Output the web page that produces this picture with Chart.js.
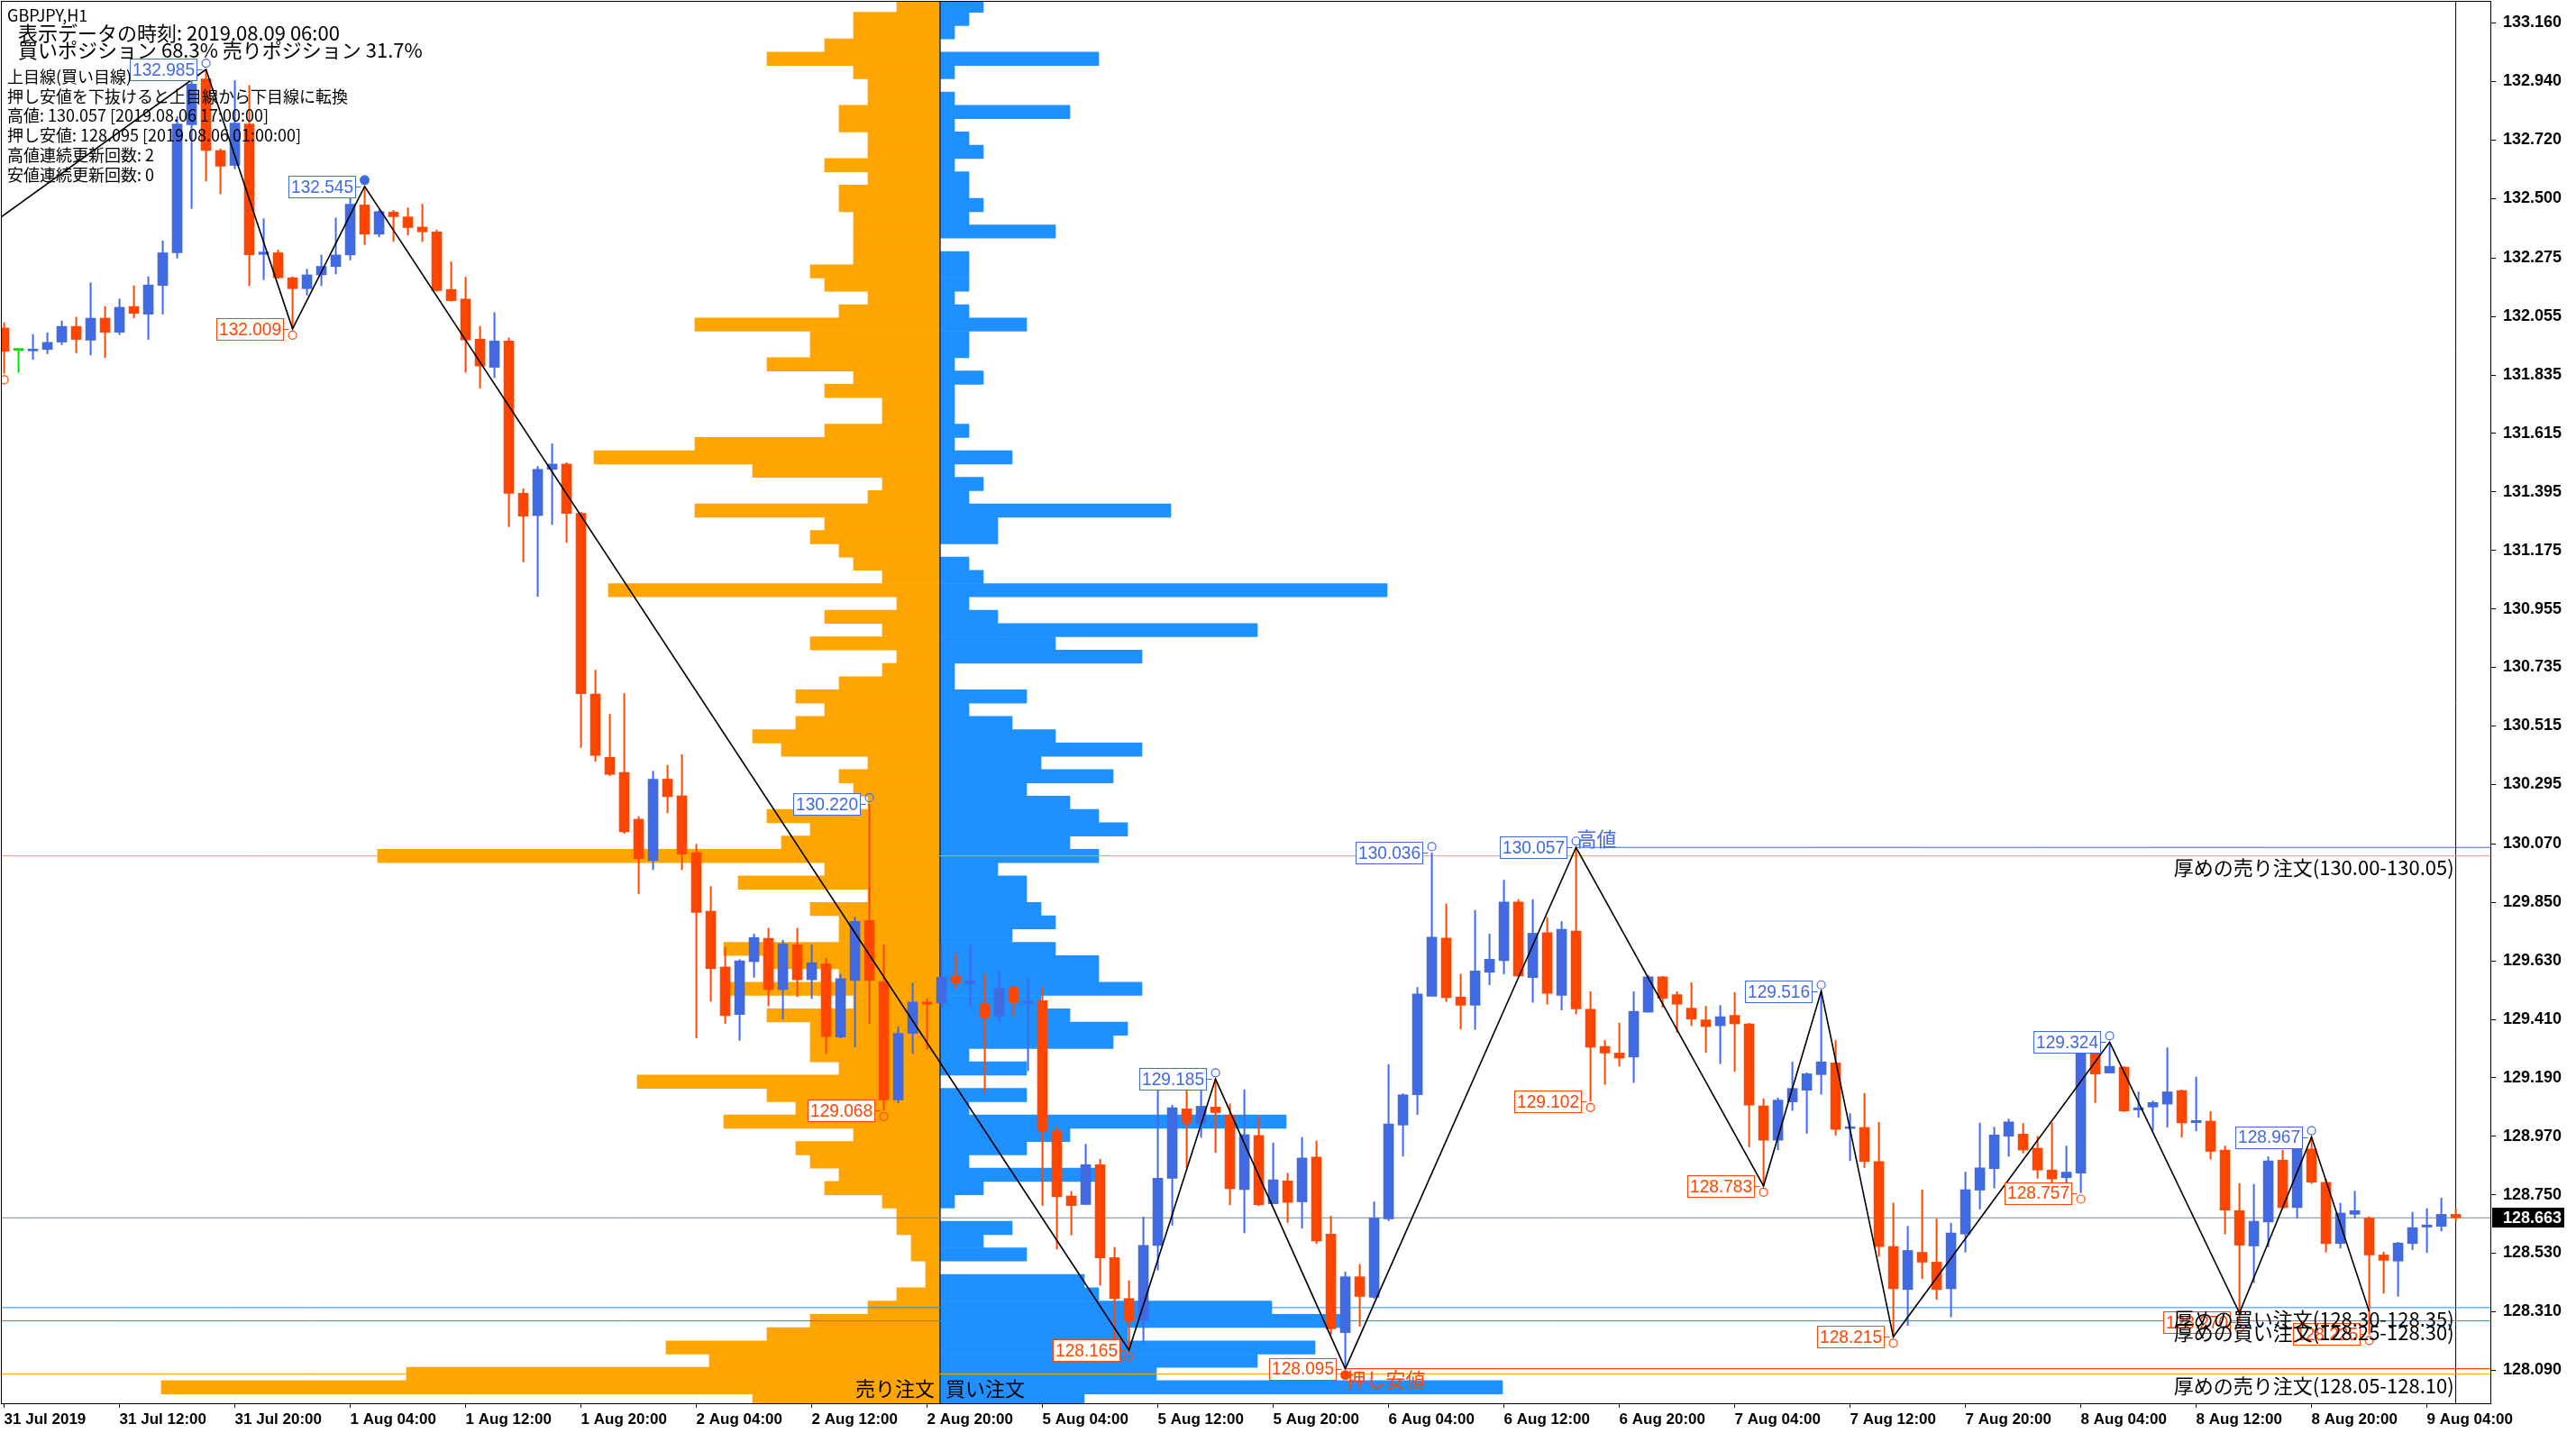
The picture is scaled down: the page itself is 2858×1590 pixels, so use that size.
<!DOCTYPE html>
<html><head><meta charset="utf-8">
<script src="https://cdn.jsdelivr.net/npm/chart.js@4.4.1/dist/chart.umd.min.js"></script>
<style>html,body{margin:0;padding:0;background:#fff;overflow:hidden}</style>
</head><body>
<canvas id="c" width="2858" height="1590" style="width:2858px;height:1590px;display:block"></canvas>
<script>
// ---------------- DATA ----------------
const OPEN=[132.012,131.928,131.926,131.931,131.959,132.018,131.966,132.049,131.996,132.093,
132.064,132.172,132.295,132.777,132.949,132.680,132.624,132.780,132.289,132.295,
132.201,132.160,132.212,132.243,132.287,132.475,132.365,132.448,132.430,132.392,
132.374,132.157,132.121,131.970,131.864,131.963,131.390,131.306,131.480,131.500,
131.314,130.634,130.396,130.339,130.163,130.007,130.314,130.251,130.037,129.817,
129.607,129.428,129.627,129.715,129.522,129.691,129.559,129.618,129.343,129.556,
129.782,129.551,129.107,129.357,129.475,129.471,129.573,129.544,129.469,129.423,
129.530,129.471,129.480,128.990,128.745,128.713,128.863,128.513,128.359,128.278,
128.559,128.812,129.073,129.019,129.080,129.049,128.769,128.973,128.716,128.802,
128.723,128.892,128.602,128.231,128.441,128.364,128.659,129.012,129.126,129.497,
129.716,129.494,129.463,129.587,129.631,129.852,129.567,129.736,129.500,129.742,
129.448,129.308,129.283,129.268,129.437,129.570,129.503,129.452,129.408,129.386,
129.425,129.393,129.084,128.955,129.099,129.143,129.202,129.246,128.999,129.003,
128.875,128.555,128.393,128.533,128.496,128.396,128.602,128.767,128.848,128.970,
128.978,128.925,128.843,128.814,128.831,129.289,129.208,129.230,129.069,129.080,
129.091,129.142,129.021,129.027,128.918,128.690,128.557,128.647,128.880,128.701,
128.922,128.797,128.566,128.676,128.662,128.523,128.500,128.566,128.628,128.631,
128.676];
const HIGH=[132.032,131.935,131.988,131.994,132.039,132.053,132.182,132.093,132.121,132.171,
132.205,132.340,132.808,132.960,132.985,132.686,132.943,132.925,132.423,132.306,
132.205,132.233,132.287,132.426,132.503,132.545,132.455,132.455,132.464,132.478,
132.381,132.261,132.203,132.018,132.070,131.975,131.407,131.491,131.576,131.505,
131.318,130.724,130.558,130.636,130.173,130.344,130.366,130.406,130.069,129.910,
129.681,129.635,129.731,129.753,129.708,129.753,129.691,129.640,129.580,129.795,
130.220,129.691,129.382,129.546,129.488,129.694,129.657,129.686,129.580,129.587,
129.534,129.563,129.530,129.005,128.762,128.940,128.883,128.552,128.426,128.666,
129.145,129.087,129.145,129.173,129.185,129.092,129.145,129.045,128.945,128.831,
128.966,128.952,128.669,128.459,128.488,128.723,129.240,129.130,129.530,130.036,
129.844,129.580,129.820,129.731,129.934,129.861,129.861,129.793,129.778,130.057,
129.514,129.331,129.396,129.514,129.575,129.572,129.514,129.548,129.459,129.462,
129.511,129.395,129.111,129.114,129.249,129.209,129.516,129.331,129.055,129.131,
129.022,128.719,128.631,128.768,128.658,128.643,128.835,129.020,129.004,129.035,
129.018,128.970,129.020,128.933,129.287,129.295,129.324,129.232,129.137,129.103,
129.303,129.144,129.193,129.063,128.933,128.792,128.789,128.893,128.918,128.935,
128.967,128.809,128.718,128.763,128.667,128.534,128.571,128.684,128.698,128.737,
128.696];
const LOW=[131.841,131.845,131.894,131.915,131.949,131.919,131.910,131.901,131.987,132.050,
131.969,132.064,132.275,132.462,132.565,132.517,132.611,132.171,132.194,132.198,
132.009,132.136,132.171,132.215,132.268,132.326,132.355,132.337,132.362,132.337,
132.150,132.113,131.845,131.786,131.825,131.264,131.132,131.002,131.272,131.205,
130.433,130.381,130.327,130.110,129.883,129.973,130.187,129.973,129.340,129.478,
129.394,129.331,129.568,129.461,129.411,129.495,129.488,129.281,129.340,129.306,
129.394,129.068,129.095,129.281,129.298,129.455,129.526,129.455,129.135,129.402,
129.423,129.216,128.709,128.545,128.598,128.713,128.409,128.207,128.165,128.195,
128.466,128.635,128.852,128.966,128.909,128.712,128.606,128.708,128.716,128.645,
128.624,128.566,128.224,128.095,128.255,128.359,128.652,128.895,129.052,129.497,
129.477,129.373,129.372,129.540,129.581,129.570,129.474,129.467,129.445,129.430,
129.102,129.165,129.234,129.172,129.437,129.455,129.361,129.386,129.286,129.243,
129.214,128.930,128.783,128.919,129.067,128.981,129.128,128.974,128.878,128.852,
128.518,128.215,128.258,128.434,128.356,128.290,128.534,128.696,128.775,128.894,
128.907,128.812,128.792,128.792,128.757,129.097,129.208,129.063,129.041,128.993,
129.004,128.967,128.990,128.884,128.602,128.270,128.419,128.554,128.698,128.662,
128.792,128.534,128.549,128.662,128.225,128.379,128.368,128.543,128.532,128.613,
128.650];
const CLOSE=[131.924,131.928,131.929,131.958,132.018,131.969,132.049,131.996,132.090,132.067,
132.174,132.295,132.780,132.930,132.680,132.621,132.783,132.288,132.298,132.201,
132.160,132.212,132.244,132.287,132.478,132.365,132.450,132.431,132.390,132.374,
132.153,132.115,131.967,131.869,131.963,131.390,131.304,131.480,131.500,131.314,
130.636,130.403,130.332,130.116,130.015,130.314,130.248,130.032,129.812,129.601,
129.424,129.630,129.718,129.522,129.694,129.559,129.623,129.345,129.563,129.779,
129.556,129.107,129.357,129.475,129.467,129.568,129.547,129.556,129.416,129.526,
129.473,129.476,128.990,128.742,128.709,128.863,128.512,128.359,128.274,128.559,
128.812,129.077,129.019,129.083,129.059,128.773,128.976,128.712,128.806,128.721,
128.888,128.576,128.245,128.441,128.367,128.663,129.016,129.126,129.506,129.719,
129.492,129.463,129.592,129.636,129.852,129.573,129.734,129.508,129.749,129.449,
129.305,129.283,129.264,129.440,129.570,129.489,129.467,129.411,129.383,129.420,
129.393,129.087,128.955,129.106,129.150,129.205,129.250,128.996,129.003,128.875,
128.555,128.396,128.540,128.496,128.393,128.606,128.769,128.851,128.975,129.024,
128.918,128.843,128.809,128.835,129.284,129.204,129.233,129.065,129.077,129.097,
129.137,129.020,129.029,128.913,128.692,128.560,128.650,128.877,128.701,128.925,
128.797,128.566,128.681,128.690,128.523,128.503,128.568,128.626,128.636,128.676,
128.663];

const X_TICK_INDEX=[0,8,16,24,32,40,48,56,64,72,80,88,96,104,112,120,128,136,144,152,160,168];
const X_TICK_LABELS=["31 Jul 2019","31 Jul 12:00","31 Jul 20:00","1 Aug 04:00","1 Aug 12:00","1 Aug 20:00",
"2 Aug 04:00","2 Aug 12:00","2 Aug 20:00","5 Aug 04:00","5 Aug 12:00","5 Aug 20:00","6 Aug 04:00",
"6 Aug 12:00","6 Aug 20:00","7 Aug 04:00","7 Aug 12:00","7 Aug 20:00","8 Aug 04:00","8 Aug 12:00",
"8 Aug 20:00","9 Aug 04:00"];
const Y_TICKS=[133.160,132.940,132.720,132.500,132.275,132.055,131.835,131.615,131.395,131.175,130.955,
130.735,130.515,130.295,130.070,129.850,129.630,129.410,129.190,128.970,128.750,128.530,128.310,128.090];

// order book buckets (lower bound of each 0.05 bucket), sell / buy percentages
const BUCKET_LOW=[133.20,133.15,133.10,133.05,133.00,132.95,132.90,132.85,132.80,132.75,
132.70,132.65,132.60,132.55,132.50,132.45,132.40,132.35,132.30,132.25,
132.20,132.15,132.10,132.05,132.00,131.95,131.90,131.85,131.80,131.75,
131.70,131.65,131.60,131.55,131.50,131.45,131.40,131.35,131.30,131.25,
131.20,131.15,131.10,131.05,131.00,130.95,130.90,130.85,130.80,130.75,
130.70,130.65,130.60,130.55,130.50,130.45,130.40,130.35,130.30,130.25,
130.20,130.15,130.10,130.05,130.00,129.95,129.90,129.85,129.80,129.75,
129.70,129.65,129.60,129.55,129.50,129.45,129.40,129.35,129.30,129.25,
129.20,129.15,129.10,129.05,129.00,128.95,128.90,128.85,128.80,128.75,
128.70,128.65,128.60,128.55,128.50,128.45,128.40,128.35,128.30,128.25,
128.20,128.15,128.10,128.05,128.00,127.95];
const SELL_PCT=[0.15,0.30,0.30,0.40,0.60,0.30,0.25,0.25,0.35,0.35,
0.25,0.25,0.40,0.25,0.35,0.35,0.30,0.30,0.30,0.30,
0.45,0.40,0.25,0.35,0.85,0.45,0.45,0.60,0.30,0.40,
0.20,0.20,0.40,0.85,1.20,0.65,0.20,0.25,0.85,0.40,
0.45,0.35,0.30,0.20,1.15,0.15,0.40,0.20,0.45,0.15,
0.20,0.35,0.50,0.40,0.50,0.65,0.55,0.25,0.35,0.30,
0.25,0.60,0.45,0.55,1.95,0.40,0.70,0.25,0.45,0.35,
0.35,0.75,0.60,0.35,0.75,0.30,0.60,0.45,0.45,0.45,
0.35,1.05,0.60,0.50,0.75,0.30,0.50,0.45,0.35,0.40,
0.20,0.15,0.15,0.10,0.10,0.05,0.05,0.15,0.25,0.45,
0.60,0.95,0.80,1.85,2.70,0.65];
const BUY_PCT=[0.15,0.10,0.05,0,0.55,0.05,0,0.05,0.45,0.05,
0.10,0.15,0.05,0.10,0.10,0.15,0.10,0.40,0,0.10,
0.10,0.10,0.05,0.10,0.30,0.10,0.10,0.05,0.15,0.05,
0.05,0.05,0.10,0.05,0.25,0.05,0.15,0.10,0.80,0.20,
0.20,0,0.10,0.15,1.55,0.10,0.20,1.10,0.40,0.70,
0.05,0.05,0.30,0.10,0.25,0.40,0.70,0.35,0.60,0.30,
0.45,0.55,0.65,0.45,0.55,0.20,0.30,0.30,0.35,0.40,
0.25,0.40,0.55,0.55,0.70,0.35,0.45,0.65,0.60,0.10,
0.30,0,0.30,0.10,1.20,0.45,0.30,0.10,0.55,0.15,
0.05,0,0.25,0.15,0.30,0,0.50,0.55,1.15,1.40,
0.65,1.30,1.10,0.75,1.95,0.50];

// zigzag vertices (bar index, price)
const ZZ_IDX=[-0.2,14,20,25,78,84,93,109,122,126,131,146,155,160,164];
const ZZ_PRICE=[132.43,132.985,132.009,132.545,128.165,129.185,128.095,130.057,128.783,129.516,128.215,129.324,128.305,128.967,128.31];

// swing labels
const HIGH_LBL_IDX=[14,25,60,84,99,109,126,146,160];
const HIGH_LBL_PRICE=[132.985,132.545,130.220,129.185,130.036,130.057,129.516,129.324,128.967];
const HIGH_LBL_FILLED=[false,true,false,false,false,false,false,false,false];
const LOW_LBL_IDX=[0,20,61,78,93,110,122,131,144,155,164];
const LOW_LBL_PRICE=[131.841,132.009,129.068,128.165,128.095,129.102,128.783,128.215,128.757,128.270,128.225];
const LOW_LBL_FILLED=[false,false,false,false,true,false,false,false,false,false,false];

// levels
const HIGH_LEVEL={idx:109, price:130.057, text:"高値"};
const LOW_LEVEL={idx:93, price:128.095, text:"押し安値"};
const THICK_TEXTS=["厚めの売り注文(130.00-130.05)","厚めの買い注文(128.30-128.35)","厚めの買い注文(128.25-128.30)","厚めの売り注文(128.05-128.10)"];
const THICK_PRICES=[130.025,128.325,128.275,128.075];
const CURRENT_IDX=170;

const HEADER_LINES=["GBPJPY,H1","表示データの時刻: 2019.08.09 06:00","買いポジション 68.3% 売りポジション 31.7%"];
const INFO_LINES=["上目線(買い目線)","押し安値を下抜けると上目線から下目線に転換","高値: 130.057 [2019.08.06 17:00:00]",
"押し安値: 128.095 [2019.08.06 01:00:00]","高値連続更新回数: 2","安値連続更新回数: 0"];
const SIDE_TEXTS=["売り注文","買い注文"];

// ---------------- STYLE ----------------
const UP='#4169E1', DN='#FF4500', DOJI='#00E000';
const SELL_C='#FFA500', BUY_C='#1E90FF';
const Y_MIN=127.965, Y_MAX=133.2397;
const CJK='"Noto Sans CJK JP", sans-serif';
const LAT='"Liberation Sans", Arial, sans-serif';

const idx=OPEN.map((_,i)=>i);
const candleColor=i=> CLOSE[i]>OPEN[i]?UP:(CLOSE[i]<OPEN[i]?DN:DOJI);
const hline=(p,x0,x1)=>[{x:x0,y:p},{x:x1,y:p}];

const datasets=[
 {type:'bar', label:'sell', indexAxis:'y', xAxisID:'xh', yAxisID:'yh', order:20, grouped:false,
  data:BUCKET_LOW.map((b,k)=>({y:b+0.025, x:-SELL_PCT[k]})), backgroundColor:SELL_C,
  barPercentage:1, categoryPercentage:1, borderWidth:0},
 {type:'bar', label:'buy', indexAxis:'y', xAxisID:'xh', yAxisID:'yh', order:19, grouped:false,
  data:BUCKET_LOW.map((b,k)=>({y:b+0.025, x:BUY_PCT[k]})), backgroundColor:BUY_C,
  barPercentage:1, categoryPercentage:1, borderWidth:0},
 {type:'line', xAxisID:'xh', yAxisID:'yh', order:18, data:[{x:0,y:Y_MIN},{x:0,y:Y_MAX}],
  borderColor:'#000', borderWidth:1, pointRadius:0},
 {type:'line', order:17, data:hline(THICK_PRICES[0],-5,180), borderColor:SELL_C, borderWidth:1, pointRadius:0},
 {type:'line', order:17, data:hline(HIGH_LEVEL.price,HIGH_LEVEL.idx,180), borderColor:UP, borderWidth:1, pointRadius:0},
 {type:'line', order:17, data:hline(CLOSE[CURRENT_IDX],-5,180), borderColor:'#778899', borderWidth:1, pointRadius:0},
 {type:'line', order:17, data:hline(THICK_PRICES[1],-5,180), borderColor:BUY_C, borderWidth:1, pointRadius:0},
 {type:'line', order:17, data:hline(THICK_PRICES[2],-5,180), borderColor:BUY_C, borderWidth:1, pointRadius:0},
 {type:'line', order:17, data:hline(LOW_LEVEL.price,LOW_LEVEL.idx,180), borderColor:DN, borderWidth:1.2, pointRadius:0},
 {type:'line', order:17, data:hline(THICK_PRICES[3],-5,180), borderColor:SELL_C, borderWidth:1, pointRadius:0},
 {type:'line', order:17, data:[{x:CURRENT_IDX,y:Y_MIN-1},{x:CURRENT_IDX,y:Y_MAX+1}], borderColor:'#000', borderWidth:1, pointRadius:0},
 {type:'bar', label:'wick', order:3, grouped:false, data:idx.map(i=>({x:i,y:[LOW[i],HIGH[i]]})),
  backgroundColor:c=>candleColor(c.dataIndex), barThickness:1.3, borderWidth:0},
 {type:'bar', label:'body', order:2, grouped:false, data:idx.map(i=>({x:i,y:[OPEN[i],CLOSE[i]]})),
  backgroundColor:c=>candleColor(c.dataIndex), barThickness:11, minBarLength:2, borderWidth:0},
 {type:'line', label:'zigzag', order:1, data:ZZ_IDX.map((x,k)=>({x:x,y:ZZ_PRICE[k]})),
  borderColor:'#000', borderWidth:1.6, pointRadius:0, tension:0}
];

function condText(ctx,text,x,y,font,color,sx,align,base){
  ctx.save(); ctx.font=font; ctx.fillStyle=color; ctx.textBaseline=base||'middle';
  const w=ctx.measureText(text).width*sx;
  let x0=x; if(align==='right')x0=x-w; else if(align==='center')x0=x-w/2;
  ctx.translate(x0,y); ctx.scale(sx,1); ctx.textAlign='left'; ctx.fillText(text,0,0); ctx.restore();
  return w;
}

const overlay={id:'overlay',
 afterDatasetsDraw(chart){
  const ctx=chart.ctx, xs=chart.scales.x, ys=chart.scales.y, xh=chart.scales.xh, ca=chart.chartArea;
  ctx.save();
  ctx.beginPath(); ctx.rect(ca.left,ca.top,ca.right-ca.left,ca.bottom-ca.top); ctx.clip();
  // swing labels
  const drawLbl=(i,p,isHigh,filled)=>{
    const x=xs.getPixelForValue(i), y=ys.getPixelForValue(p), col=isHigh?UP:DN;
    const txt=p.toFixed(3); const f='21px '+LAT;
    ctx.font=f; const tw=ctx.measureText(txt).width*0.91; const w=tw+5, h=24;
    const right=Math.round(x-11);
    const left=Math.round(right-w), top=Math.round(y-h/2);
    ctx.fillStyle='#fff'; ctx.fillRect(left,top,right-left,h);
    ctx.strokeStyle=col; ctx.lineWidth=1; ctx.strokeRect(left+0.5,top+0.5,right-left,h);
    ctx.beginPath(); ctx.moveTo(right,Math.round(y)+0.5); ctx.lineTo(x-4,Math.round(y)+0.5); ctx.stroke();
    condText(ctx,txt,left+3,y+1,f,col,0.91,'left','middle');
    const cy=isHigh?y-7:y+7;
    ctx.beginPath(); ctx.arc(x,cy,filled?5.5:4.5,0,Math.PI*2);
    if(filled){ctx.fillStyle=col;ctx.fill();} else {ctx.strokeStyle=col;ctx.lineWidth=1.2;ctx.stroke();}
  };
  HIGH_LBL_IDX.forEach((i,k)=>drawLbl(i,HIGH_LBL_PRICE[k],true,HIGH_LBL_FILLED[k]));
  LOW_LBL_IDX.forEach((i,k)=>drawLbl(i,LOW_LBL_PRICE[k],false,LOW_LBL_FILLED[k]));
  // thick order texts (drawn above labels)
  ctx.font='22px '+CJK; ctx.fillStyle='#000'; ctx.textBaseline='top'; ctx.textAlign='right';
  const xr=xs.getPixelForValue(CURRENT_IDX)-2;
  THICK_TEXTS.forEach((t,k)=>{ ctx.fillText(t,xr,ys.getPixelForValue(THICK_PRICES[k])+2); });
  // high / low level texts
  ctx.textAlign='left';
  ctx.fillStyle=UP; ctx.textBaseline='bottom';
  ctx.fillText(HIGH_LEVEL.text, xs.getPixelForValue(HIGH_LEVEL.idx)+1, ys.getPixelForValue(HIGH_LEVEL.price)+1);
  ctx.fillStyle=DN; ctx.textBaseline='top';
  ctx.fillText(LOW_LEVEL.text, xs.getPixelForValue(LOW_LEVEL.idx)+1, ys.getPixelForValue(LOW_LEVEL.price)+1);
  // side texts
  ctx.fillStyle='#000'; ctx.textBaseline='middle'; ctx.font='22px '+CJK;
  const cx=xh.getPixelForValue(0);
  ctx.textAlign='right'; ctx.fillText(SIDE_TEXTS[0],cx-6,1541);
  ctx.textAlign='left'; ctx.fillText(SIDE_TEXTS[1],cx+6,1541);
  // header & info text
  ctx.fillStyle='#000'; ctx.textAlign='left'; ctx.textBaseline='middle';
  ctx.font='18px '+CJK; ctx.fillText(HEADER_LINES[0],8,17);
  ctx.font='22px '+CJK; ctx.fillText(HEADER_LINES[1],20,37); ctx.fillText(HEADER_LINES[2],20,56);
  ctx.font='18px '+CJK;
  INFO_LINES.forEach((t,k)=>ctx.fillText(t,8,85+k*21.8));
  ctx.restore();
  // frame
  ctx.save(); ctx.strokeStyle='#000'; ctx.lineWidth=1;
  ctx.strokeRect(ca.left-0.5,ca.top-0.5,ca.right-ca.left+1,ca.bottom-ca.top+1);
  // current price tag
  const py=ys.getPixelForValue(CLOSE[CURRENT_IDX]);
  ctx.fillStyle='#000'; ctx.fillRect(ca.right+2,Math.round(py-11),80,22);
  ctx.fillStyle='#fff'; ctx.font='bold 18px '+LAT; ctx.textBaseline='middle'; ctx.textAlign='left';
  ctx.fillText(CLOSE[CURRENT_IDX].toFixed(3),ca.right+14,py+1);
  ctx.restore();
 }};

new Chart(document.getElementById('c').getContext('2d'),{
 data:{datasets:datasets},
 options:{responsive:false, animation:false, maintainAspectRatio:false, devicePixelRatio:1,
  layout:{padding:{left:2,top:2,right:0,bottom:0}},
  plugins:{legend:{display:false},tooltip:{enabled:false}},
  scales:{
   x:{type:'linear', position:'bottom', min:-0.16, max:172.4, offset:false,
      afterBuildTicks:s=>{s.ticks=X_TICK_INDEX.map(v=>({value:v}));},
      afterFit:s=>{s.height=33; s.paddingLeft=0; s.paddingRight=0;},
      ticks:{callback:(v,i)=>X_TICK_LABELS[i], align:'start', autoSkip:false, maxRotation:0, minRotation:0,
        padding:3, color:'#000', font:{family:LAT, size:17, weight:'bold'}},
      grid:{drawOnChartArea:false, offset:false, tickLength:5, color:'#000', lineWidth:1}, border:{display:false}},
   y:{type:'linear', position:'right', min:Y_MIN, max:Y_MAX, offset:false,
      afterBuildTicks:s=>{s.ticks=Y_TICKS.map(v=>({value:v}));},
      afterFit:s=>{s.width=95; s.paddingTop=0; s.paddingBottom=0;},
      ticks:{callback:v=>Number(v).toFixed(3), autoSkip:false, padding:8, color:'#000',
        font:{family:LAT, size:18, weight:'bold'}},
      grid:{drawOnChartArea:false, offset:false, tickLength:6, color:'#000', lineWidth:1}, border:{display:false}},
   xh:{type:'linear', display:false, min:-3.253, max:5.375, offset:false},
   yh:{type:'linear', display:false, min:Y_MIN, max:Y_MAX, offset:false}
  }},
 plugins:[overlay]
});
</script>
</body></html>
